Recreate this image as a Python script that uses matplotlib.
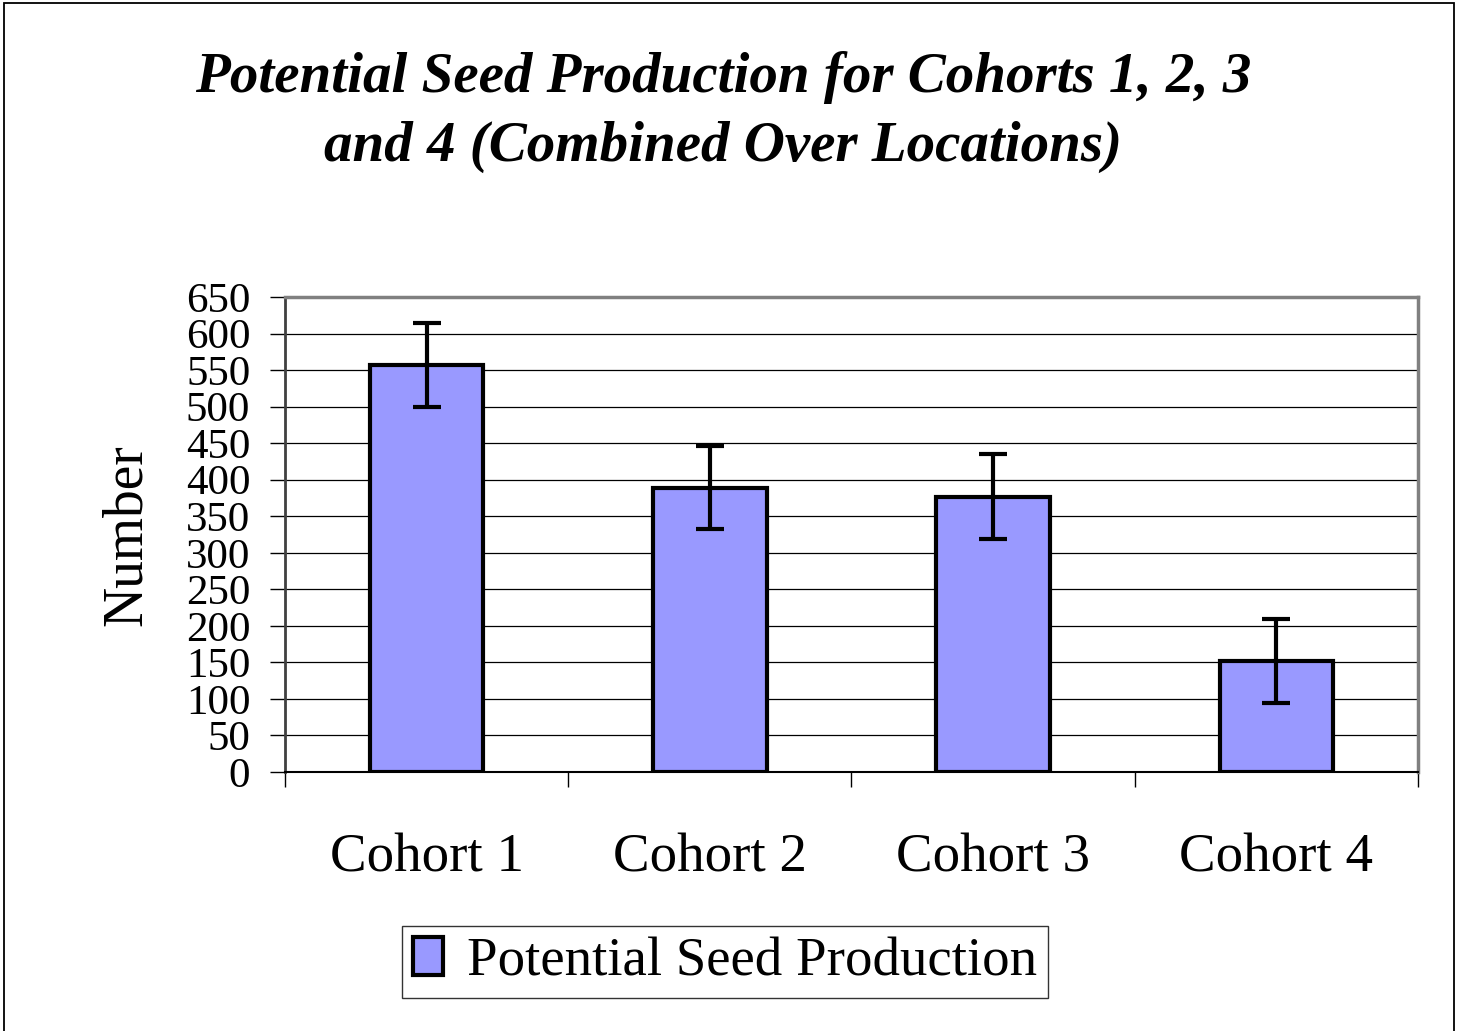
import matplotlib
matplotlib.use("Agg")
import matplotlib.pyplot as plt
from matplotlib.patches import Rectangle
from matplotlib.ticker import MultipleLocator

# Data
cohorts = ["Cohort 1", "Cohort 2", "Cohort 3", "Cohort 4"]
seed_means = [557, 389, 377, 152]
seed_errors = [58, 57, 58, 58]
y_ticks = list(range(0, 651, 50))

plt.rcParams["font.family"] = ["Liberation Serif", "DejaVu Serif"]

W, H = 1461, 1031
fig = plt.figure(figsize=(W / 100, H / 100), dpi=100)
fig.patch.set_facecolor("white")

# Plot area in pixel coordinates of the reference
left, right, top, bottom = 285, 1418, 297, 772
ax = fig.add_axes([left / W, 1 - bottom / H, (right - left) / W, (bottom - top) / H])

x = range(len(cohorts))
ax.bar(x, seed_means, width=0.4, color="#9999FF", edgecolor="black",
       linewidth=3, label="Potential Seed Production", zorder=3)
ax.errorbar(x, seed_means, yerr=seed_errors, fmt="none", ecolor="black",
            elinewidth=3, capsize=10, capthick=3, zorder=4)

ax.set_xlim(-0.5, len(cohorts) - 0.5)
ax.set_ylim(0, 650)
ax.set_yticks(y_ticks)
ax.set_xticks(list(x))
ax.set_xticklabels(cohorts, fontsize=39.5)
ax.xaxis.set_minor_locator(MultipleLocator(1, offset=0.5))
ax.tick_params(axis="x", which="major", length=0, pad=44)
ax.tick_params(axis="x", which="minor", length=11, width=1, color="black", direction="out")
ax.tick_params(axis="y", labelsize=31, length=11, width=1, direction="out", pad=14)

ax.yaxis.grid(True, color="black", linewidth=0.9)
ax.set_axisbelow(True)

for side in ["top", "right"]:
    ax.spines[side].set_color("#808080")
    ax.spines[side].set_linewidth(2.5)
ax.spines["left"].set_color("#404040")
ax.spines["left"].set_linewidth(2)
ax.spines["bottom"].set_color("black")
ax.spines["bottom"].set_linewidth(1.5)

# Title, two lines
fig.text(723 / W, 1 - 92 / H, "Potential Seed Production for Cohorts 1, 2, 3",
         ha="center", va="baseline", fontsize=41, fontweight="bold", fontstyle="italic")
fig.text(723 / W, 1 - 161 / H, "and 4 (Combined Over Locations)",
         ha="center", va="baseline", fontsize=41, fontweight="bold", fontstyle="italic")

fig.text(127 / W, 1 - 535 / H, "Number", rotation=90, ha="center", va="center", fontsize=40)

leg = fig.legend(loc="center", bbox_to_anchor=(725 / W, 1 - 962 / H), fontsize=39.5,
                 frameon=True, fancybox=False, edgecolor="black", handlelength=0.55,
                 handleheight=0.7, handletextpad=0.45, borderpad=0.2, borderaxespad=0)
leg.get_frame().set_linewidth(1)

# Outer chart border
fig.patches.append(Rectangle((4 / W, -0.01), 1450 / W, 1.01 - 3 / H, transform=fig.transFigure,
                             fill=False, edgecolor="black", linewidth=1.3))

fig.savefig("out.png", dpi=100)
